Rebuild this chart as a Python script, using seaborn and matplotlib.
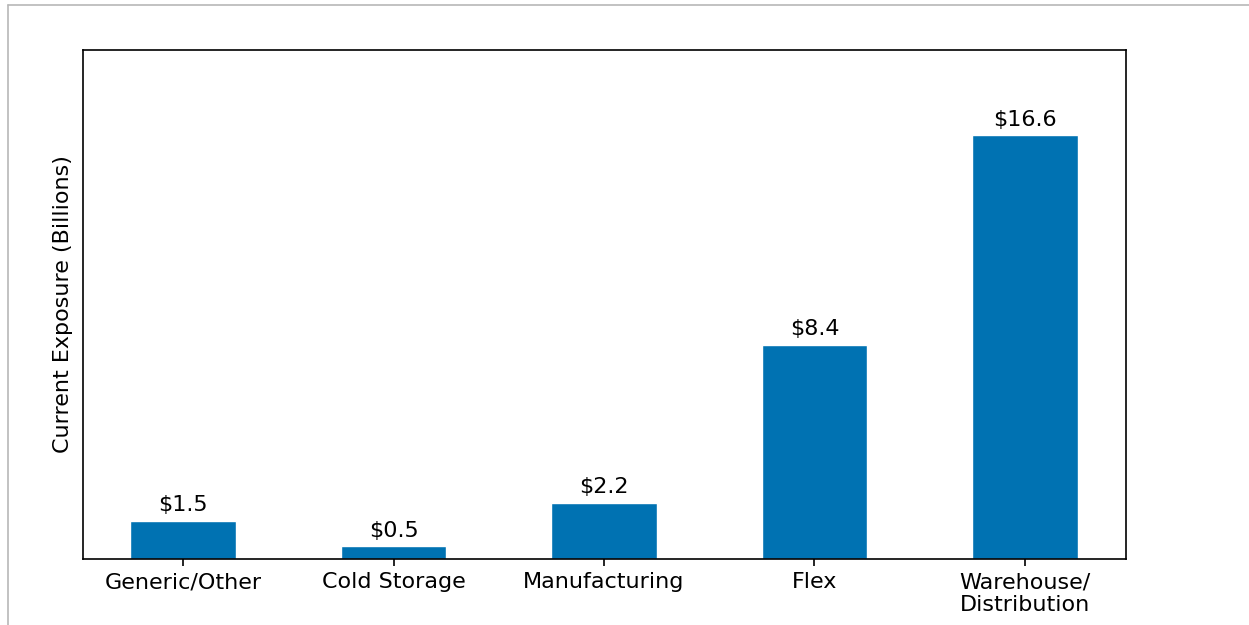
import matplotlib
matplotlib.use("Agg")
import matplotlib.pyplot as plt
import seaborn as sns
import pandas as pd
from matplotlib.lines import Line2D

# Chart data
categories = ["Generic/Other", "Cold Storage", "Manufacturing", "Flex", "Warehouse/\nDistribution"]
exposure = [1.5, 0.5, 2.2, 8.4, 16.6]

df = pd.DataFrame({"category": categories, "exposure": exposure})

sns.set_style("white")
plt.rcParams['font.family'] = ['DejaVu Sans']
plt.rcParams['text.color'] = 'black'
plt.rcParams['axes.labelcolor'] = 'black'
plt.rcParams['xtick.color'] = 'black'

fig = plt.figure(figsize=(12.49, 6.25), dpi=100)
ax = fig.add_axes([0.0665, 0.1056, 0.835, 0.8144])

sns.barplot(data=df, x="category", y="exposure", color="#0072B2",
            saturation=1, width=0.5, ax=ax)

# value labels above the bars
ax.bar_label(ax.containers[0], labels=[f"${v:.1f}" for v in exposure],
             padding=4, fontsize=16, color="black")

ax.set_ylim(0, 19.95)
ax.set_xlim(-0.475, 4.48)
ax.set_yticks([])
ax.set_xlabel("")
ax.set_ylabel("Current Exposure (Billions)", fontsize=16, labelpad=7)
ax.tick_params(axis="x", labelsize=16, bottom=True, length=5, width=1.2, color="black",
               labelcolor="black", pad=4.5)
for s in ax.spines.values():
    s.set_visible(True)
    s.set_color("black")
    s.set_linewidth(1.2)

# light page border on top and left
fig.add_artist(Line2D([8 / 1249, 8 / 1249], [0, 1 - 5 / 625], transform=fig.transFigure,
                      color="#b8b8b8", lw=1.2))
fig.add_artist(Line2D([8 / 1249, 1], [1 - 5 / 625, 1 - 5 / 625], transform=fig.transFigure,
                      color="#b8b8b8", lw=1.2))

fig.savefig("out.png", dpi=100)
